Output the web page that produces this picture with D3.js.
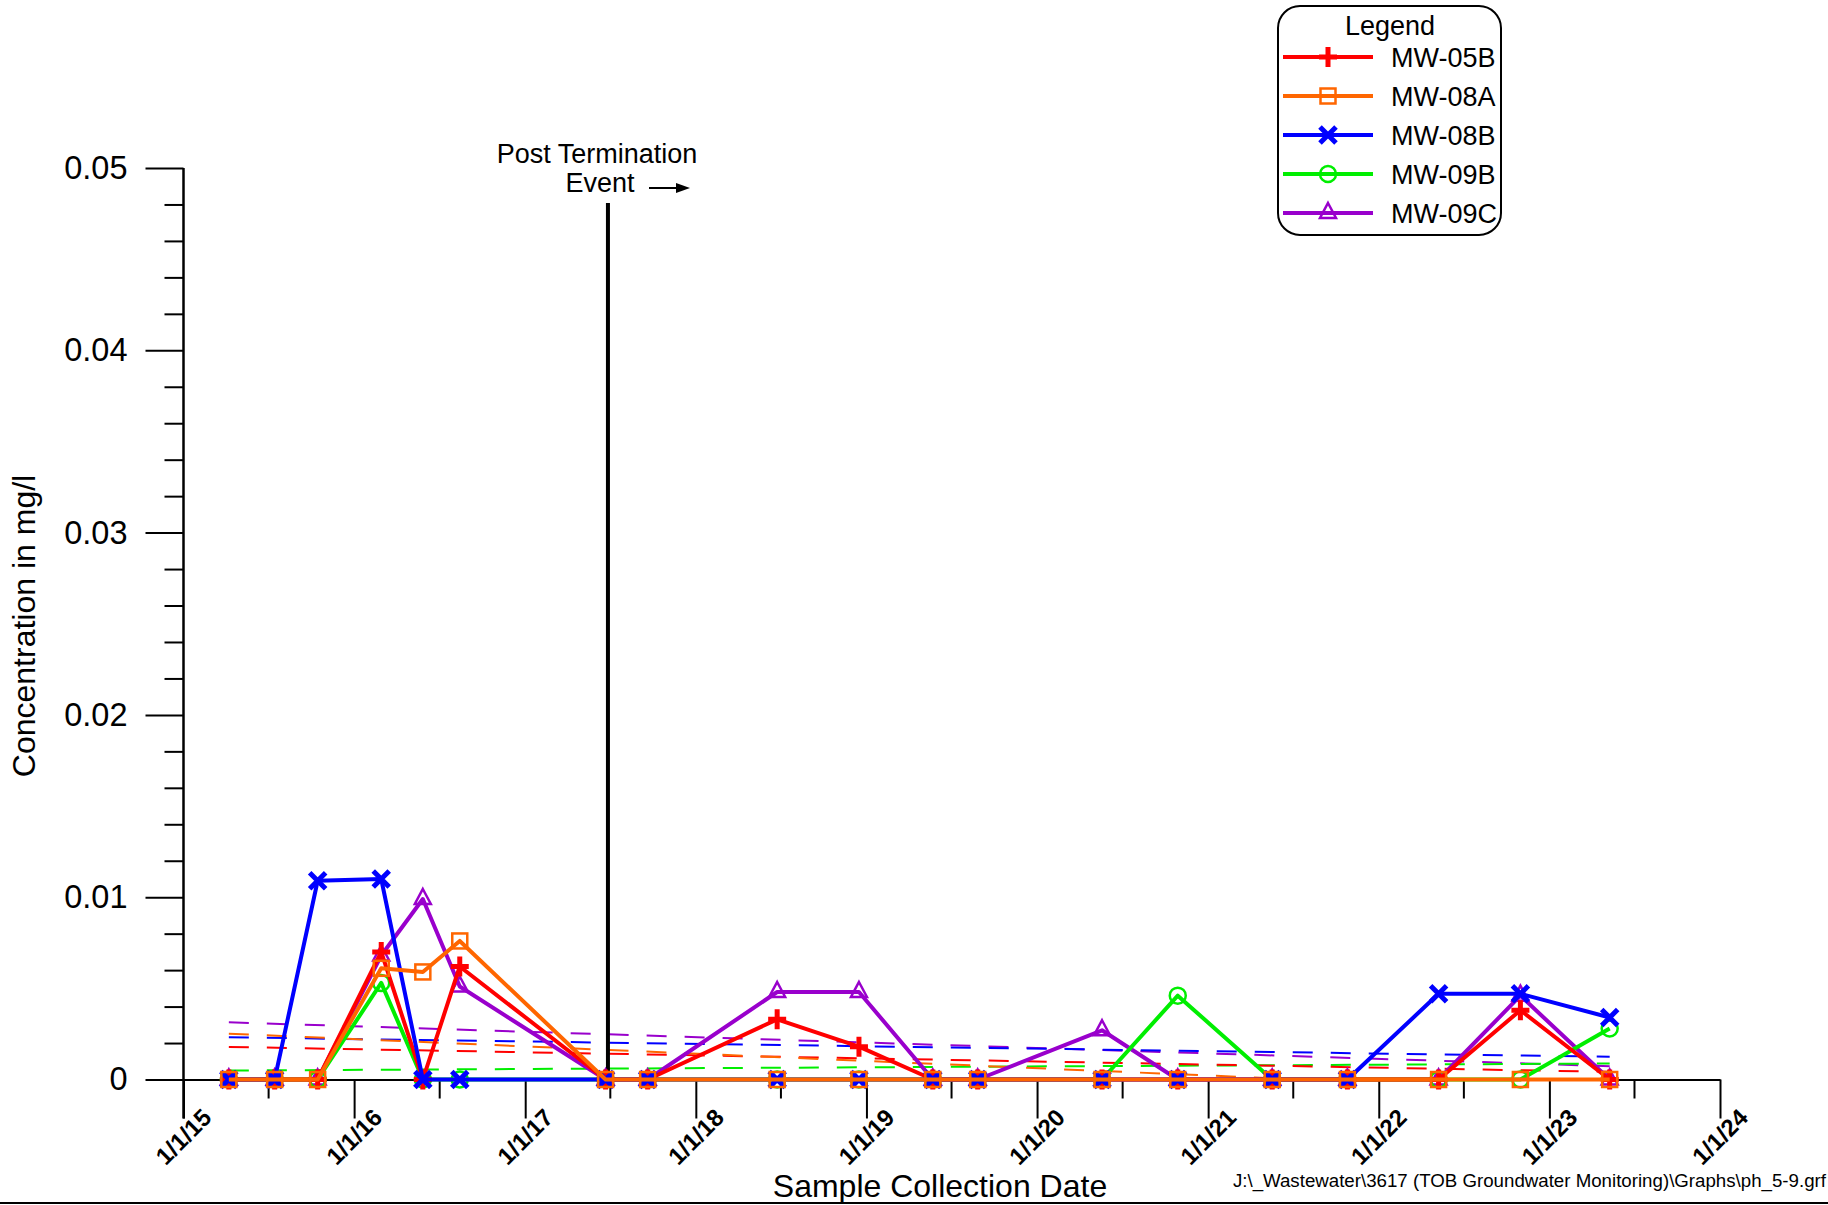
<!DOCTYPE html>
<html>
<head>
<meta charset="utf-8">
<script src="https://cdn.jsdelivr.net/npm/d3@7"></script>
<style>
	body { margin: 0; background: #fff; }
	svg { display: block; font-family: "Liberation Sans", Arial, sans-serif; }
</style>
</head>
<body>
<div class="line-chart"></div>
<script>
// sample dates and concentrations (mg/l)
const sampleDates = [
	'2015-04-08', '2015-07-15', '2015-10-15', '2016-02-28', '2016-05-27',
	'2016-08-14', '2017-06-22', '2017-09-20', '2018-06-24', '2018-12-16',
	'2019-05-23', '2019-08-27', '2020-05-19', '2020-10-28', '2021-05-18',
	'2021-10-26', '2022-05-09', '2022-10-31', '2023-05-10'
];
const mw05B = [0, 0, 0, 0.0070, 0, 0.0062, 0, 0, 0.0033, 0.0018, 0, 0, 0, 0, 0, 0, 0, 0.0038, 0];
const mw08A = [0, 0, 0, 0.0061, 0.0059, 0.0076, 0, 0, 0, 0, 0, 0, 0, 0, 0, 0, 0, 0, 0];
const mw08B = [0, 0, 0.0109, 0.0110, 0, 0, 0, 0, 0, 0, 0, 0, 0, 0, 0, 0, 0.0047, 0.0047, 0.0034];
const mw09B = [0, 0, 0, 0.0053, 0, 0, 0, 0, 0, 0, 0, 0, 0, 0.0046, 0, 0, 0, 0, 0.0028];
const mw09C = [0, 0, 0, 0.0068, 0.0099, 0.0051, 0, 0, 0.0048, 0.0048, 0, 0, 0.0027, 0, 0, 0, 0, 0.0046, 0];

const wellNames = ['MW-05B', 'MW-08A', 'MW-08B', 'MW-09B', 'MW-09C'];
const yTicks = [0, 0.01, 0.02, 0.03, 0.04, 0.05];
const xTicks = ['2015-01-01', '2016-01-01', '2017-01-01', '2018-01-01', '2019-01-01',
	'2020-01-01', '2021-01-01', '2022-01-01', '2023-01-01', '2024-01-01'];
const eventDate = '2017-06-27';

const parse = d3.timeParse('%Y-%m-%d');
const dates = sampleDates.map(parse);

const series = [
	{ name: 'MW-05B', values: mw05B, color: '#ff0000', shape: 'plus' },
	{ name: 'MW-08A', values: mw08A, color: '#ff6600', shape: 'square' },
	{ name: 'MW-08B', values: mw08B, color: '#0000ff', shape: 'cross' },
	{ name: 'MW-09B', values: mw09B, color: '#00ee00', shape: 'circle' },
	{ name: 'MW-09C', values: mw09C, color: '#9900cc', shape: 'triangle' }
];
// drawing order, orange ends up on top
const drawOrder = ['MW-09C', 'MW-09B', 'MW-05B', 'MW-08B', 'MW-08A'];

const width = 1828;
const height = 1205;

const svg = d3.select('.line-chart')
	.append('svg')
	.attr('width', width)
	.attr('height', height);

const x = d3.scaleTime()
	.domain([parse(xTicks[0]), parse(xTicks[xTicks.length - 1])])
	.range([183.5, 1720]);
const y = d3.scaleLinear()
	.domain([0, 0.05])
	.range([1079.5, 168]);

svg.append('clipPath')
	.attr('id', 'plot-clip')
	.append('rect')
	.attr('x', x.range()[0])
	.attr('y', y(0.05))
	.attr('width', x.range()[1] - x.range()[0])
	.attr('height', y(0) - y(0.05));

// ---- axes
const yMinor = d3.range(0.002, 0.05, 0.002).filter(v => Math.abs(v * 100 - Math.round(v * 100)) > 1e-6);

svg.append('g')
	.attr('transform', 'translate(' + x.range()[0] + ',0)')
	.call(d3.axisLeft(y).tickValues(yMinor).tickSize(19).tickFormat(''))
	.call(g => g.select('.domain').remove())
	.selectAll('line').attr('stroke-width', 2);

svg.append('g')
	.attr('transform', 'translate(' + x.range()[0] + ',0)')
	.call(d3.axisLeft(y).tickValues(yTicks).tickSize(38).tickPadding(18)
		.tickFormat(d => (d === 0 ? '0' : d.toFixed(2))))
	.call(g => g.select('.domain').remove())
	.call(g => g.selectAll('line').attr('stroke-width', 2))
	.selectAll('text')
	.attr('font-size', 32.5)
	.attr('font-family', null)
	.attr('fill', '#000');

const xMinor = xTicks.slice(0, -1).map(d => d3.timeMonth.offset(parse(d), 6));

svg.append('g')
	.attr('transform', 'translate(0,' + y(0) + ')')
	.call(d3.axisBottom(x).tickValues(xMinor).tickSize(19).tickFormat(''))
	.call(g => g.select('.domain').remove())
	.selectAll('line').attr('stroke-width', 2);

svg.append('g')
	.attr('transform', 'translate(0,' + y(0) + ')')
	.call(d3.axisBottom(x).tickValues(xTicks.map(parse)).tickSize(39).tickSizeOuter(0)
		.tickFormat(d3.timeFormat('%-m/%-d/%y')))
	.call(g => g.select('.domain').attr('stroke-width', 2))
	.call(g => g.selectAll('line').attr('stroke-width', 2))
	.selectAll('text')
	.attr('y', null)
	.attr('dy', null)
	.attr('text-anchor', 'end')
	.attr('transform', 'translate(29,39.5) rotate(-45)')
	.attr('font-size', 24)
	.attr('font-weight', 'bold')
	.attr('font-family', null)
	.attr('fill', '#000');

// y axis line runs from the top tick down to the 1/1/15 tick end
svg.append('line')
	.attr('x1', x.range()[0]).attr('x2', x.range()[0])
	.attr('y1', y(0.05)).attr('y2', y(0) + 39)
	.attr('stroke', '#000')
	.attr('stroke-width', 2.5);

svg.append('text')
	.attr('transform', 'translate(35,626) rotate(-90)')
	.attr('text-anchor', 'middle')
	.attr('font-size', 32)
	.text('Concentration in mg/l');

svg.append('text')
	.attr('x', 940)
	.attr('y', 1197)
	.attr('text-anchor', 'middle')
	.attr('font-size', 32)
	.text('Sample Collection Date');

svg.append('text')
	.attr('x', 1826)
	.attr('y', 1187)
	.attr('text-anchor', 'end')
	.attr('font-size', 18.7)
	.text('J:\\_Wastewater\\3617 (TOB Groundwater Monitoring)\\Graphs\\ph_5-9.grf');

svg.append('line')
	.attr('x1', 0).attr('x2', width)
	.attr('y1', 1203).attr('y2', 1203)
	.attr('stroke', '#000')
	.attr('stroke-width', 2);

// ---- trend lines (least squares over the samples)
function trend(values) {
	const t = dates.map(d => +d);
	const mx = d3.mean(t);
	const my = d3.mean(values);
	let sxy = 0;
	let sxx = 0;
	t.forEach((v, i) => {
		sxy += (v - mx) * (values[i] - my);
		sxx += (v - mx) * (v - mx);
	});
	const slope = sxy / sxx;
	return [dates[0], dates[dates.length - 1]].map(d => ({ date: d, value: my + slope * (+d - mx) }));
}

const line = d3.line()
	.x(d => x(d.date))
	.y(d => y(d.value));

const trendG = svg.append('g').attr('clip-path', 'url(#plot-clip)');
drawOrder.forEach(name => {
	const s = series.find(v => v.name === name);
	trendG.append('path')
		.datum(trend(s.values))
		.attr('d', line)
		.attr('fill', 'none')
		.attr('stroke', s.color)
		.attr('stroke-width', 2)
		.attr('stroke-dasharray', '20,18');
});

// ---- post termination event
svg.append('line')
	.attr('x1', x(parse(eventDate))).attr('x2', x(parse(eventDate)))
	.attr('y1', 203).attr('y2', y(0))
	.attr('stroke', '#000')
	.attr('stroke-width', 4);

svg.append('text')
	.attr('x', 597)
	.attr('y', 163)
	.attr('text-anchor', 'middle')
	.attr('font-size', 27)
	.text('Post Termination');
svg.append('text')
	.attr('x', 600)
	.attr('y', 192)
	.attr('text-anchor', 'middle')
	.attr('font-size', 27)
	.text('Event');
svg.append('line')
	.attr('x1', 649).attr('x2', 678)
	.attr('y1', 188).attr('y2', 188)
	.attr('stroke', '#000')
	.attr('stroke-width', 2);
svg.append('path')
	.attr('d', 'M676,183L690,188L676,193Z')
	.attr('fill', '#000');

// ---- markers
function drawMarker(g, shape, color) {
	if (shape === 'plus') {
		g.append('path').attr('d', 'M-9,0H9M0,-10V10')
			.attr('stroke', color).attr('stroke-width', 5).attr('fill', 'none');
	} else if (shape === 'cross') {
		g.append('path').attr('d', 'M-8,-8L8,8M-8,8L8,-8')
			.attr('stroke', color).attr('stroke-width', 5).attr('fill', 'none');
	} else if (shape === 'square') {
		g.append('rect').attr('x', -7.5).attr('y', -7.5).attr('width', 15).attr('height', 15)
			.attr('stroke', color).attr('stroke-width', 2.5).attr('fill', 'none');
	} else if (shape === 'circle') {
		g.append('circle').attr('r', 8)
			.attr('stroke', color).attr('stroke-width', 2.5).attr('fill', 'none');
	} else if (shape === 'triangle') {
		g.append('path').attr('d', 'M0,-10L8,5H-8Z')
			.attr('stroke', color).attr('stroke-width', 2.5).attr('fill', 'none');
	}
}

// ---- series
drawOrder.forEach(name => {
	const s = series.find(v => v.name === name);
	const pts = s.values.map((v, i) => ({ date: dates[i], value: v }));
	const g = svg.append('g').attr('class', 'series');
	g.append('path')
		.datum(pts)
		.attr('d', line)
		.attr('fill', 'none')
		.attr('stroke', s.color)
		.attr('stroke-width', 4)
		.attr('stroke-linejoin', 'round');
	g.selectAll('.marker')
		.data(pts)
		.enter()
		.append('g')
		.attr('class', 'marker')
		.attr('transform', d => 'translate(' + x(d.date) + ',' + y(d.value) + ')')
		.each(function() {
			drawMarker(d3.select(this), s.shape, s.color);
		});
});

// ---- legend
const legend = svg.append('g');
legend.append('rect')
	.attr('x', 1278).attr('y', 6)
	.attr('width', 223).attr('height', 229)
	.attr('rx', 22).attr('ry', 22)
	.attr('fill', '#fff')
	.attr('stroke', '#000')
	.attr('stroke-width', 2);
legend.append('text')
	.attr('x', 1390).attr('y', 35)
	.attr('text-anchor', 'middle')
	.attr('font-size', 27)
	.text('Legend');

series.forEach((s, i) => {
	const cy = 57 + i * 39;
	legend.append('line')
		.attr('x1', 1283).attr('x2', 1373)
		.attr('y1', cy).attr('y2', cy)
		.attr('stroke', s.color)
		.attr('stroke-width', 4);
	drawMarker(legend.append('g').attr('transform', 'translate(1328,' + cy + ')'), s.shape, s.color);
	legend.append('text')
		.attr('x', 1391).attr('y', cy + 9.5)
		.attr('font-size', 27)
		.text(wellNames[i]);
});
</script>
</body>
</html>
